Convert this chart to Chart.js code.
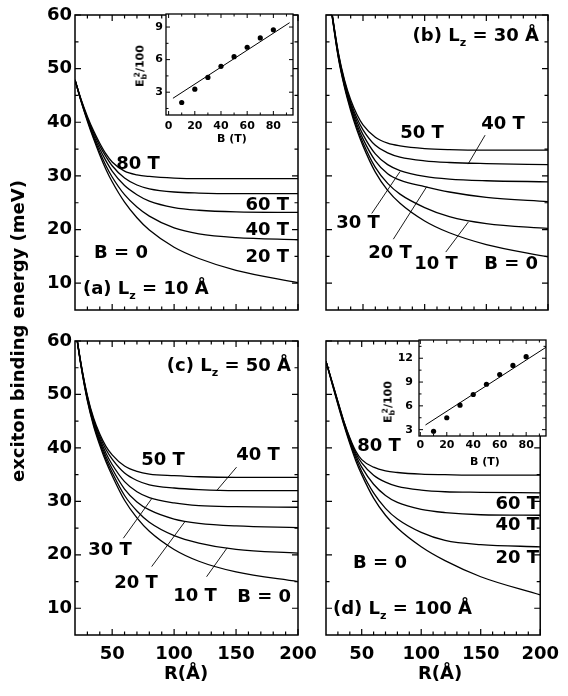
<!DOCTYPE html>
<html><head><meta charset="utf-8">
<script src="https://cdn.jsdelivr.net/npm/chart.js@4.4.1/dist/chart.umd.min.js"></script>
<style>
html,body{margin:0;padding:0;background:#fff;}
#fig{position:relative;width:568px;height:696px;overflow:hidden;background:#fff;}
#fig canvas{position:absolute;left:0;top:0;}
.t{position:absolute;font-family:"DejaVu Sans",sans-serif;font-weight:bold;font-size:18px;line-height:1;white-space:nowrap;color:#000;transform:translate(-50%,-50%);}
.r{transform:translate(-100%,-50%);}
.l{transform:translate(0,-50%);}
.rot{transform:translate(-50%,-50%) rotate(-90deg);}
.s11{font-size:11px;}
.sub{font-size:0.62em;position:relative;top:0.45em;}
.sb{font-size:0.7em;position:relative;top:0.35em;}
.sp{font-size:0.7em;position:relative;top:-0.55em;margin-left:-0.45em;}
</style></head><body>
<div id="fig">
<canvas id="pa" width="568" height="696"></canvas>
<canvas id="pb" width="568" height="696"></canvas>
<canvas id="pc" width="568" height="696"></canvas>
<canvas id="pd" width="568" height="696"></canvas>
<canvas id="ia" width="568" height="696"></canvas>
<canvas id="id" width="568" height="696"></canvas>

<div class="t rot" style="left:18px;top:331px;">exciton binding energy (meV)</div>
<div class="t" style="left:186px;top:673px;">R(Å)</div>
<div class="t" style="left:440px;top:673px;">R(Å)</div>

<div class="t" style="left:138px;top:163px;">80 T</div>
<div class="t r" style="left:289px;top:204px;">60 T</div>
<div class="t r" style="left:289px;top:229px;">40 T</div>
<div class="t r" style="left:289px;top:256px;">20 T</div>
<div class="t" style="left:121px;top:252px;">B = 0</div>
<div class="t l" style="left:83px;top:288px;">(a) L<span class="sub">z</span> = 10 Å</div>

<div class="t r" style="left:539px;top:35px;">(b) L<span class="sub">z</span> = 30 Å</div>
<div class="t" style="left:422px;top:132px;">50 T</div>
<div class="t" style="left:503px;top:123px;">40 T</div>
<div class="t" style="left:358px;top:222px;">30 T</div>
<div class="t" style="left:390px;top:252px;">20 T</div>
<div class="t" style="left:436px;top:263px;">10 T</div>
<div class="t r" style="left:538px;top:263px;">B = 0</div>

<div class="t r" style="left:291px;top:365px;">(c) L<span class="sub">z</span> = 50 Å</div>
<div class="t" style="left:163px;top:459px;">50 T</div>
<div class="t" style="left:258px;top:454px;">40 T</div>
<div class="t" style="left:110px;top:549px;">30 T</div>
<div class="t" style="left:136px;top:582px;">20 T</div>
<div class="t" style="left:195px;top:595px;">10 T</div>
<div class="t r" style="left:291px;top:596px;">B = 0</div>

<div class="t" style="left:379px;top:445px;">80 T</div>
<div class="t r" style="left:539px;top:503px;">60 T</div>
<div class="t r" style="left:539px;top:524px;">40 T</div>
<div class="t r" style="left:539px;top:557px;">20 T</div>
<div class="t" style="left:380px;top:562px;">B = 0</div>
<div class="t l" style="left:333px;top:608px;">(d) L<span class="sub">z</span> = 100 Å</div>

<div class="t s11" style="left:232px;top:138px;">B (T)</div>
<div class="t s11 rot" style="left:140px;top:66px;">E<span class="sb">b</span><span class="sp">2</span>/100</div>
<div class="t s11" style="left:485px;top:461px;">B (T)</div>
<div class="t s11 rot" style="left:388px;top:402px;">E<span class="sb">b</span><span class="sp">2</span>/100</div>
</div>
<script>
// ---------- data ----------
const R = [20, 25, 30, 35, 40, 45, 50, 60, 70, 80, 100, 120, 150, 200];

// (a) Lz = 10 Å
const a80 = [47.9, 44.2, 41.1, 38.4, 36.1, 34.1, 32.6, 30.9, 30.2, 29.9, 29.6, 29.5, 29.5, 29.5];
const a60 = [47.9, 44.1, 40.8, 38.0, 35.6, 33.6, 31.9, 29.6, 28.3, 27.6, 27.0, 26.8, 26.7, 26.7];
const a40 = [47.9, 44.0, 40.6, 37.6, 35.0, 32.8, 30.9, 28.2, 26.5, 25.3, 24.1, 23.6, 23.3, 23.2];
const a20 = [47.9, 43.9, 40.4, 37.2, 34.4, 31.9, 29.8, 26.5, 24.2, 22.5, 20.3, 19.2, 18.5, 18.1];
const a0  = [47.9, 43.8, 40.2, 36.9, 33.9, 31.2, 28.9, 25.1, 22.2, 19.9, 16.7, 14.6, 12.4, 10.1];

// (b) Lz = 30 Å
const b50 = [68, 60.2, 53.0, 47.9, 44.2, 41.5, 39.5, 37.2, 36.1, 35.6, 35.1, 34.9, 34.8, 34.8];
const b40 = [68, 60.1, 52.8, 47.6, 43.7, 40.8, 38.6, 35.7, 34.3, 33.5, 32.8, 32.5, 32.3, 32.1];
const b30 = [68, 60.0, 52.6, 47.3, 43.3, 40.2, 37.7, 34.1, 32.1, 31.0, 29.9, 29.4, 29.1, 28.9];
const b20 = [68, 59.9, 52.4, 47.0, 42.9, 39.6, 36.9, 32.8, 30.4, 29.2, 28.0, 27.0, 26.0, 25.2];
const b10 = [68, 59.8, 52.2, 46.8, 42.6, 39.1, 36.2, 31.6, 28.6, 26.6, 24.1, 22.4, 21.1, 20.2];
const b0  = [68, 59.7, 52.0, 46.5, 42.2, 38.6, 35.6, 30.7, 27.3, 24.9, 21.6, 19.4, 17.2, 14.9];

// (c) Lz = 50 Å
const c50 = [62.8, 55.6, 49.8, 45.6, 42.6, 40.3, 38.7, 36.6, 35.6, 35.1, 34.8, 34.6, 34.5, 34.5];
const c40 = [62.8, 55.5, 49.6, 45.3, 42.2, 39.7, 37.9, 35.3, 33.9, 33.1, 32.5, 32.2, 32.0, 32.0];
const c30 = [62.8, 55.4, 49.4, 45.0, 41.7, 39.0, 36.9, 33.7, 31.8, 30.7, 29.7, 29.2, 29.0, 28.9];
const c20 = [62.8, 55.3, 49.2, 44.7, 41.3, 38.4, 36.1, 32.3, 29.9, 28.4, 26.7, 25.9, 25.4, 25.1];
const c10 = [62.8, 55.2, 49.0, 44.4, 40.9, 37.9, 35.4, 31.1, 28.2, 26.1, 23.6, 22.2, 21.0, 20.3];
const c0  = [62.8, 55.1, 48.8, 44.1, 40.5, 37.4, 34.8, 30.2, 26.9, 24.4, 21.0, 18.8, 16.8, 15.0];

// (d) Lz = 100 Å
const d80 = [56.2, 52.5, 48.7, 45.0, 41.9, 39.4, 37.8, 36.4, 35.7, 35.4, 35.1, 35.0, 34.9, 34.9];
const d60 = [56.2, 52.4, 48.6, 44.9, 41.7, 39.0, 37.2, 34.9, 33.6, 32.8, 32.1, 31.8, 31.7, 31.6];
const d40 = [56.2, 52.3, 48.5, 44.7, 41.4, 38.6, 36.4, 33.2, 31.1, 29.8, 28.5, 27.9, 27.5, 27.4];
const d20 = [56.2, 52.2, 48.3, 44.5, 41.1, 38.1, 35.6, 31.6, 28.7, 26.7, 24.2, 22.7, 21.9, 21.5];
const d0  = [56.2, 52.1, 48.1, 44.3, 40.8, 37.6, 35.0, 30.6, 27.4, 25.0, 21.5, 18.9, 15.9, 12.5];

// leader lines (R, E) for label pointers
const bLead40 = {R: [149, 135.2], E: [37.6, 32.2]};
const bLead30 = {R: [57.1, 80], E: [23.0, 30.8]};
const bLead20 = {R: [74.6, 101.7], E: [18.2, 28.0]};
const bLead10 = {R: [117.1, 135.4], E: [15.8, 21.4]};
const cLead40 = {R: [150.4, 134.3], E: [36.4, 32.0]};
const cLead30 = {R: [59, 81.9], E: [23.1, 30.5]};
const cLead20 = {R: [81.9, 108.7], E: [17.8, 26.2]};
const cLead10 = {R: [126.2, 142.8], E: [15.9, 21.3]};

// insets: Eb^2/100 vs B
const B = [10, 20, 30, 40, 50, 60, 70, 80];
const insetA = [2.05, 3.28, 4.36, 5.38, 6.27, 7.14, 8.0, 8.74];
const fitA = {B: [3.3, 92.4], E: [2.44, 9.4]};
const insetD = [2.8, 4.5, 6.09, 7.43, 8.72, 9.94, 11.1, 12.2];
const fitD = {B: [3.9, 95.2], E: [3.59, 13.4]};

// ticks
const xMain = [50, 100, 150, 200];
const xMainMinor = [30, 40, 60, 70, 80, 90, 110, 120, 130, 140, 160, 170, 180, 190];
const yMain = [10, 20, 30, 40, 50, 60];
const yMainMinor = [15, 25, 35, 45, 55];
const xIn = [0, 20, 40, 60, 80];
const xInMinor = [10, 30, 50, 70, 90];
const yInA = [3, 6, 9];
const yInAMinor = [1.5, 4.5, 7.5];
const yInD = [3, 6, 9, 12];
const yInDMinor = [4.5, 7.5, 10.5, 13.5];

// ---------- drawing ----------
Chart.defaults.font.family = '"DejaVu Sans", sans-serif';
Chart.defaults.font.weight = 'bold';
Chart.defaults.color = '#000';

function frame(cfg) {
  return {
    id: 'frame',
    beforeDraw(chart) {
      if (!cfg.bg) return;
      const a = chart.chartArea, c = chart.ctx;
      c.save(); c.fillStyle = cfg.bg;
      c.fillRect(a.left, a.top, a.right - a.left, a.bottom - a.top);
      c.restore();
    },
    afterDraw(chart) {
      const a = chart.chartArea, c = chart.ctx, xs = chart.scales.x, ys = chart.scales.y;
      c.save(); c.strokeStyle = '#000'; c.lineWidth = cfg.tickW; c.beginPath();
      const tx = (vals, len) => vals.forEach(v => { const p = xs.getPixelForValue(v);
        c.moveTo(p, a.bottom); c.lineTo(p, a.bottom - len); c.moveTo(p, a.top); c.lineTo(p, a.top + len); });
      const ty = (vals, len) => vals.forEach(v => { const p = ys.getPixelForValue(v);
        c.moveTo(a.left, p); c.lineTo(a.left + len, p); c.moveTo(a.right, p); c.lineTo(a.right - len, p); });
      tx(cfg.xMajor, cfg.major); tx(cfg.xMinor, cfg.minor);
      ty(cfg.yMajor, cfg.major); ty(cfg.yMinor, cfg.minor);
      c.stroke();
      c.lineWidth = cfg.frameW;
      c.strokeRect(a.left, a.top, a.right - a.left, a.bottom - a.top);
      c.restore();
    }
  };
}

const curve = (xs, ys, w) => ({
  data: xs.map((x, i) => ({x: x, y: ys[i]})),
  borderColor: '#000', borderWidth: w, pointRadius: 0, fill: false,
  cubicInterpolationMode: 'monotone'
});
const straight = (xs, ys, w) => ({
  data: xs.map((x, i) => ({x: x, y: ys[i]})),
  borderColor: '#000', borderWidth: w, pointRadius: 0, fill: false, tension: 0
});
const dots = (xs, ys, r) => ({
  data: xs.map((x, i) => ({x: x, y: ys[i]})),
  showLine: false, pointRadius: r, pointBackgroundColor: '#000', pointBorderWidth: 0, borderColor: '#000'
});

function makeChart(id, o) {
  const [L, T, Rr, Bt] = o.area;
  const pad = {left: L - (o.showY ? o.yW : 0), top: T, right: 568 - Rr, bottom: 696 - Bt - (o.showX ? o.xH : 0)};
  return new Chart(document.getElementById(id), {
    type: 'line',
    data: {datasets: o.datasets},
    options: {
      responsive: false, animation: false, devicePixelRatio: 1, events: [],
      layout: {padding: pad},
      plugins: {legend: {display: false}, tooltip: {enabled: false}},
      scales: {
        x: {type: 'linear', min: o.x[0], max: o.x[1], display: o.showX,
          grid: {display: false, drawTicks: false}, border: {display: false},
          ticks: {font: {size: o.fs}, padding: o.xPad, autoSkip: false, maxRotation: 0, minRotation: 0, color: '#000'},
          afterBuildTicks: s => { s.ticks = (o.xLabels || []).map(v => ({value: v})); },
          afterFit: s => { s.height = o.xH || 0; }},
        y: {type: 'linear', min: o.y[0], max: o.y[1], display: o.showY,
          grid: {display: false, drawTicks: false}, border: {display: false},
          ticks: {font: {size: o.fs}, padding: o.yPad, autoSkip: false, color: '#000'},
          afterBuildTicks: s => { s.ticks = (o.yLabels || []).map(v => ({value: v})); },
          afterFit: s => { s.width = o.yW || 0; }}
      }
    },
    plugins: [frame(o.frame)]
  });
}

const mainFrame = {xMajor: xMain, xMinor: xMainMinor, yMajor: yMain, yMinor: yMainMinor, major: 6, minor: 3.5, tickW: 1.2, frameW: 1.5};
const LW = 1.3, LL = 0.9;

makeChart('pa', {area: [75, 15, 298, 310], x: [20, 200], y: [5, 60], showX: false, showY: true, yW: 40, fs: 18, yPad: 3,
  yLabels: yMain, frame: mainFrame,
  datasets: [curve(R, a0, LW), curve(R, a20, LW), curve(R, a40, LW), curve(R, a60, LW), curve(R, a80, LW)]});

makeChart('pb', {area: [326, 15, 548, 310], x: [20, 200], y: [5, 60], showX: false, showY: false, fs: 18, frame: mainFrame,
  datasets: [curve(R, b0, LW), curve(R, b10, LW), curve(R, b20, LW), curve(R, b30, LW), curve(R, b40, LW), curve(R, b50, LW),
    straight(bLead40.R, bLead40.E, LL), straight(bLead30.R, bLead30.E, LL), straight(bLead20.R, bLead20.E, LL), straight(bLead10.R, bLead10.E, LL)]});

makeChart('pc', {area: [75, 341, 298, 635], x: [20, 200], y: [5, 60], showX: true, showY: true, yW: 40, xH: 30, fs: 18, yPad: 3, xPad: 9,
  xLabels: xMain, yLabels: yMain, frame: mainFrame,
  datasets: [curve(R, c0, LW), curve(R, c10, LW), curve(R, c20, LW), curve(R, c30, LW), curve(R, c40, LW), curve(R, c50, LW),
    straight(cLead40.R, cLead40.E, LL), straight(cLead30.R, cLead30.E, LL), straight(cLead20.R, cLead20.E, LL), straight(cLead10.R, cLead10.E, LL)]});

makeChart('pd', {area: [326, 341, 548, 635], x: [20, 200], y: [5, 60], showX: true, showY: false, xH: 30, fs: 18, xPad: 9,
  xLabels: xMain, frame: mainFrame,
  datasets: [curve(R, d0, LW), curve(R, d20, LW), curve(R, d40, LW), curve(R, d60, LW), curve(R, d80, LW)]});

makeChart('ia', {area: [166, 14, 293, 115], x: [-2, 95], y: [0.9, 10.2], showX: true, showY: true, yW: 20, xH: 18, fs: 11, xPad: 5, yPad: 3,
  xLabels: xIn, yLabels: yInA,
  frame: {xMajor: xIn, xMinor: xInMinor, yMajor: yInA, yMinor: yInAMinor, major: 4, minor: 2.5, tickW: 1, frameW: 1.3, bg: '#fff'},
  datasets: [straight(fitA.B, fitA.E, 1), dots(B, insetA, 2.6)]});

makeChart('id', {area: [419, 340, 546, 436], x: [-1, 95], y: [2.2, 14.3], showX: true, showY: true, yW: 25, xH: 18, fs: 11, xPad: 3, yPad: 6,
  xLabels: xIn, yLabels: yInD,
  frame: {xMajor: xIn, xMinor: xInMinor, yMajor: yInD, yMinor: yInDMinor, major: 4, minor: 2.5, tickW: 1, frameW: 1.3, bg: '#fff'},
  datasets: [straight(fitD.B, fitD.E, 1), dots(B, insetD, 2.6)]});
</script>
</body></html>
